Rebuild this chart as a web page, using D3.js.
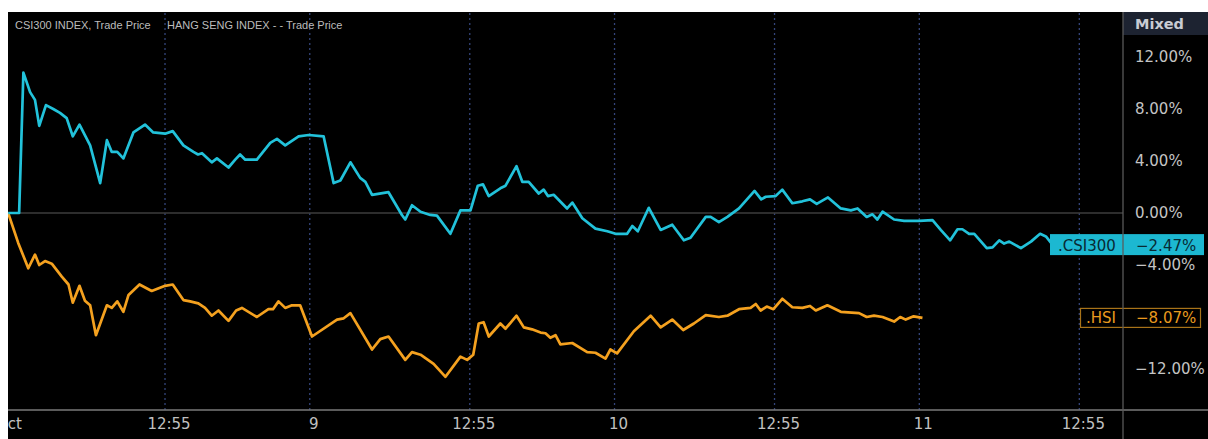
<!DOCTYPE html>
<html>
<head>
<meta charset="utf-8">
<script src="https://cdn.jsdelivr.net/npm/d3@7"></script>
<style>
  body { margin: 0; background: #fff; }
  svg { display: block; }
</style>
</head>
<body>
<svg id="chart"></svg>
<script>
// Session position: 0 = Oct 8 open, 100 = Oct 9 open, ... (compressed trading time)
const csiPos = [1.2, 4.8, 6.2, 8.4, 10.0, 11.4, 13.6, 16.0, 18.2, 20.4, 22.4, 24.6, 28.1, 31.4, 33.6, 35.2, 37.0, 39.0,
  42.3, 46.1, 48.8, 52.7, 55.2, 58.7, 62.0, 63.5, 64.8, 68.0, 69.7, 73.5, 75.7, 77.3, 79.0, 82.8, 87.2, 89.4, 92.1,
  96.5, 99.8, 104.7, 108.0, 110.2, 113.5, 116.7, 118.4, 120.6, 126.0, 130.4, 131.5, 133.7, 136.5, 139.7, 141.9,
  146.3, 149.6, 152.9, 155.3, 157.0, 158.9, 162.7, 164.4, 168.0, 169.9, 172.0, 175.3, 176.9, 178.3, 180.2, 184.6,
  186.3, 189.6, 193.9, 197.8, 200.5, 204.3, 206.0, 207.8, 211.4, 215.3, 219.1, 222.9, 225.1, 230.1, 231.7, 234.4,
  237.2, 241.0, 246.1, 248.3, 249.8, 253.0, 255.2, 258.5, 261.8, 264.3, 266.5, 270.2, 274.4, 277.7, 279.9, 282.9,
  284.8, 286.4, 288.1, 291.9, 295.2, 300.1, 304.5, 307.2, 310.3, 312.7, 314.3, 316.5, 318.2, 322.3, 324.2, 326.4,
  328.0, 329.7, 333.5, 336.8, 339.8, 341.7, 344.0];
const csiVal = [0, 0, 10.8, 9.3, 8.7, 6.7, 8.3, 8.0, 7.7, 7.3, 5.9, 6.8, 5.2, 2.3, 5.6, 4.7, 4.7, 4.2,
  6.2, 6.8, 6.2, 6.1, 6.3, 5.2, 4.7, 4.5, 4.6, 3.9, 4.2, 3.5, 4.1, 4.5, 4.1, 4.1, 5.4, 5.7, 5.2,
  5.9, 6.0, 5.9, 2.3, 2.5, 3.9, 2.7, 2.4, 1.4, 1.6, -0.15, -0.5, 0.6, 0.1, -0.15, -0.2,
  -1.6, 0.2, 0.2, 2.1, 2.2, 1.3, 1.9, 2.1, 3.6, 2.4, 2.4, 1.5, 1.8, 1.3, 1.4, 0.35,
  0.8, -0.4, -1.2, -1.4, -1.6, -1.6, -1.0, -1.4, 0.4, -1.3, -0.9, -2.1, -1.9, -0.3, -0.3, -0.7,
  -0.3, 0.35, 1.7, 1.05, 1.25, 1.3, 1.8, 0.75, 0.9, 1.05, 0.7, 1.2, 0.35, 0.2, 0.35, -0.3,
  -0.1, -0.5, 0.1, -0.5, -0.6, -0.6, -0.55, -1.3, -2.1, -1.25, -1.25, -1.6, -1.6, -2.7, -2.65, -2.1,
  -2.35, -2.2, -2.7, -2.2, -1.6, -1.8, -2.47];

const hsiPos = [1.2, 4.5, 7.8, 10.0, 11.4, 13.3, 15.5, 18.8, 21.0, 22.4, 24.6, 26.4, 28.1, 30.0, 33.6, 35.2, 37.0,
  39.0, 40.7, 44.3, 48.3, 52.7, 55.2, 58.7, 60.9, 63.6, 65.8, 68.0, 70.2, 73.5, 76.0, 77.9, 82.8, 86.6, 88.1,
  89.9, 92.1, 94.3, 97.0, 100.9, 109.1, 111.3, 113.5, 120.6, 123.3, 126.0, 131.5, 133.7, 136.5, 140.8, 144.7,
  149.6, 151.8, 153.8, 155.6, 157.2, 158.9, 162.7, 164.4, 168.0, 170.4, 173.1, 175.9, 177.5, 179.1, 180.8, 182.4,
  186.3, 191.2, 193.9, 197.2, 198.8, 201.0, 206.5, 212.0, 215.3, 219.1, 222.7, 226.2, 230.1, 234.4, 237.2, 241.0,
  244.8, 246.5, 248.1, 250.1, 252.3, 255.2, 258.5, 261.8, 264.3, 266.2, 270.0, 274.4, 280.4, 282.9, 285.3, 288.1,
  291.9, 293.9, 295.7, 298.3, 301.2];
const hsiVal = [0, -2.3, -4.25, -3.2, -4.0, -3.7, -3.9, -4.9, -5.5, -6.9, -5.6, -6.75, -7.1, -9.4, -7.1, -7.3, -6.8,
  -7.6, -6.3, -5.5, -6.0, -5.6, -5.5, -6.7, -6.8, -6.95, -7.3, -7.9, -7.5, -8.3, -7.5, -7.3, -8.0, -7.4, -7.4,
  -6.8, -7.3, -7.1, -7.1, -9.5, -8.2, -8.1, -7.7, -10.5, -9.7, -9.5, -11.3, -10.7, -10.9, -11.6, -12.6,
  -11.05, -11.3, -10.9, -8.5, -8.4, -9.5, -8.5, -8.9, -7.9, -8.8, -8.95, -9.2, -9.25, -9.6, -9.4, -10.1,
  -10.0, -10.7, -10.75, -11.2, -10.5, -10.8, -9.1, -7.9, -8.8, -8.2, -9.0, -8.5, -7.85, -8.0, -7.9, -7.4,
  -7.3, -7.0, -7.5, -7.2, -7.4, -6.6, -7.25, -7.3, -7.15, -7.5, -7.1, -7.6, -7.7, -8.0, -7.9, -8.0,
  -8.35, -8.0, -8.2, -7.95, -8.07];

const xTickPos = [0, 52.5, 100, 152.5, 200, 252.5, 300, 352.5];
const xTickLabels = ["Oct", "12:55", "9", "12:55", "10", "12:55", "11", "12:55"];
const yTicks = [12, 8, 4, 0, -4, -12];
const seriesNames = [".CSI300", ".HSI"];
const lastValues = [-2.47, -8.07];
const legendLabels = ["CSI300 INDEX, Trade Price", "HANG SENG INDEX -  - Trade Price"];

const W = 1208, H = 439;
const plotLeft = 8, plotTop = 12, plotRight = 1123, axisY = 410;
const cyan = "#22c2da", orange = "#f4a11f";

const svg = d3.select("#chart").attr("width", W).attr("height", H)
  .style("font-family", "'DejaVu Sans', sans-serif");

svg.append("rect").attr("width", W).attr("height", H).attr("fill", "#fff");
svg.append("rect").attr("x", plotLeft).attr("y", plotTop)
  .attr("width", W - plotLeft).attr("height", H - plotTop).attr("fill", "#000");

svg.append("defs").append("clipPath").attr("id", "clip")
  .append("rect").attr("x", plotLeft).attr("y", plotTop)
  .attr("width", plotRight - plotLeft).attr("height", H - plotTop);

const x = d3.scaleLinear().domain([0, 367]).range([4.5, plotRight]);
const y = d3.scaleLinear().domain([-15, 15]).range([408, 18]);

const plot = svg.append("g").attr("clip-path", "url(#clip)");

// dotted vertical gridlines
plot.append("g")
  .attr("transform", `translate(0,${axisY})`)
  .call(d3.axisBottom(x).tickValues(xTickPos.slice(1)).tickSize(-(axisY - plotTop)).tickFormat(""))
  .call(g => g.select(".domain").remove())
  .selectAll("line")
  .attr("stroke", "#34457a")
  .attr("stroke-width", 1.3)
  .attr("stroke-dasharray", "2,3");

// zero line
plot.append("line")
  .attr("x1", plotLeft).attr("x2", plotRight)
  .attr("y1", y(0)).attr("y2", y(0))
  .attr("stroke", "#3d3d3d").attr("stroke-width", 1.5);

const line = d3.line().x(d => x(d[0])).y(d => y(d[1]));

plot.append("path")
  .datum(d3.zip(hsiPos, hsiVal))
  .attr("d", line)
  .attr("fill", "none").attr("stroke", orange)
  .attr("stroke-width", 2.7).attr("stroke-linejoin", "round");

plot.append("path")
  .datum(d3.zip(csiPos, csiVal))
  .attr("d", line)
  .attr("fill", "none").attr("stroke", cyan)
  .attr("stroke-width", 2.7).attr("stroke-linejoin", "round");

// bottom axis with labels
const xAxis = plot.append("g")
  .attr("transform", `translate(0,${axisY})`)
  .call(d3.axisBottom(x).tickValues(xTickPos).tickSize(0).tickPadding(8)
    .tickFormat((d, i) => xTickLabels[i]));
xAxis.select(".domain").remove();
xAxis.selectAll("text")
  .attr("dx", 4)
  .attr("fill", "#c0c0c0")
  .attr("font-size", 15)
  .attr("font-family", "'DejaVu Sans', sans-serif");

svg.append("line")
  .attr("x1", plotLeft).attr("x2", W)
  .attr("y1", axisY).attr("y2", axisY)
  .attr("stroke", "#7a7a7a").attr("stroke-width", 1.5);

// legend
svg.selectAll("text.legend")
  .data(legendLabels)
  .enter()
  .append("text")
  .attr("class", "legend")
  .attr("x", (d, i) => i === 0 ? 15 : 167)
  .attr("y", 29)
  .attr("font-family", "'Liberation Sans', Arial, sans-serif")
  .attr("font-size", 11)
  .attr("fill", "#bcbcbc")
  .text(d => d);

// right panel header
svg.append("rect")
  .attr("x", plotRight).attr("y", plotTop)
  .attr("width", W - plotRight).attr("height", 23)
  .attr("fill", "#1d2331");
svg.append("text")
  .attr("x", 1135).attr("y", 29)
  .attr("font-size", 14.5).attr("font-weight", "bold")
  .attr("fill", "#c9ccd3")
  .text("Mixed");

// right y axis labels
const fmt = v => (v < 0 ? "\u2212" : "") + Math.abs(v).toFixed(2) + "%";
svg.append("g")
  .selectAll("text")
  .data(yTicks)
  .enter()
  .append("text")
  .attr("x", 1135)
  .attr("y", d => y(d))
  .attr("dy", "0.36em")
  .attr("font-size", 15)
  .attr("fill", "#c4c4c4")
  .text(fmt);

// last value tags
const csiY = y(lastValues[0]);
svg.append("rect")
  .attr("x", 1050).attr("y", csiY - 11)
  .attr("width", 154).attr("height", 21)
  .attr("fill", "#1cb8d1");
svg.append("text")
  .attr("x", 1087).attr("y", csiY).attr("dy", "0.36em")
  .attr("text-anchor", "middle")
  .attr("font-size", 15).attr("fill", "#082a33")
  .text(seriesNames[0]);
svg.append("text")
  .attr("x", 1136).attr("y", csiY).attr("dy", "0.36em")
  .attr("font-size", 15).attr("fill", "#082a33")
  .text(fmt(lastValues[0]));

const hsiY = y(lastValues[1]);
svg.append("rect")
  .attr("x", 1080.5).attr("y", hsiY - 9.5)
  .attr("width", 120).attr("height", 19)
  .attr("fill", "#000").attr("stroke", "#a87319").attr("stroke-width", 1.2);
svg.append("text")
  .attr("x", 1101).attr("y", hsiY).attr("dy", "0.36em")
  .attr("text-anchor", "middle")
  .attr("font-size", 15).attr("fill", "#e99a1e")
  .text(seriesNames[1]);
svg.append("text")
  .attr("x", 1136).attr("y", hsiY).attr("dy", "0.36em")
  .attr("font-size", 15).attr("fill", "#e99a1e")
  .text(fmt(lastValues[1]));

// panel separator
svg.append("line")
  .attr("x1", plotRight).attr("x2", plotRight)
  .attr("y1", plotTop).attr("y2", H)
  .attr("stroke", "#5a5a5a").attr("stroke-width", 1.5).attr("stroke-opacity", 0.85);
</script>
</body>
</html>
